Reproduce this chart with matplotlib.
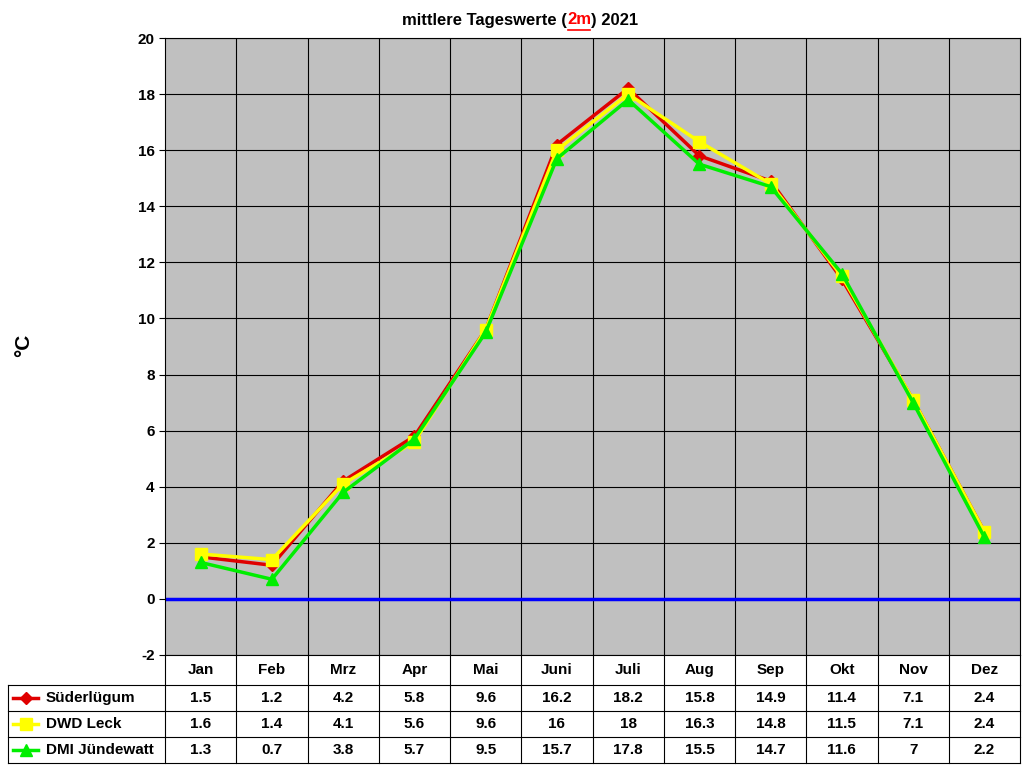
import matplotlib
matplotlib.use("Agg")
import matplotlib.pyplot as plt
from matplotlib.lines import Line2D

months = ["Jan","Feb","Mrz","Apr","Mai","Juni","Juli","Aug","Sep","Okt","Nov","Dez"]
sued = [1.5,1.2,4.2,5.8,9.6,16.2,18.2,15.8,14.9,11.4,7.1,2.4]
dwd = [1.6,1.4,4.1,5.6,9.6,16,18,16.3,14.8,11.5,7.1,2.4]
dmi = [1.3,0.7,3.8,5.7,9.5,15.7,17.8,15.5,14.7,11.6,7,2.2]
names = ["Süderlügum","DWD Leck","DMI Jündewatt"]
series = [sued, dwd, dmi]
colors = ["#E00000","#FFFF00","#00EE00"]
markers = ["D","s","^"]
msizes = [6,8,8]

plt.rcParams['font.family'] = 'Liberation Sans'
plt.rcParams['axes.unicode_minus'] = False
W,H = 1024,768
fig = plt.figure(figsize=(10.24,7.68), dpi=100)
L,R,T,B = 165,1020,38,655
ax = fig.add_axes([L/W, 1-B/H, (R-L)/W, (B-T)/H])
ax.set_facecolor("#C0C0C0")
x = list(range(12))
for s,c,m,ms in zip(series,colors,markers,msizes):
    ax.plot(x,s,color=c,marker=m,markersize=ms,lw=2.5,zorder=3)
ax.axhline(0,color="#0000FF",lw=2.5,zorder=2)
ax.set_xlim(-0.5,11.5); ax.set_ylim(-2,20)
ax.set_yticks(range(-2,21,2))
ax.set_xticks([i+0.5 for i in range(11)])
ax.set_xticklabels([])
ax.tick_params(axis='x', length=0)
ax.grid(True,color="black",lw=0.8)
ax.set_axisbelow(True)
for lab in ax.get_yticklabels(): lab.set_fontweight('bold'); lab.set_fontsize(11)
ax.tick_params(axis='y', length=4)
for sp in ax.spines.values(): sp.set_color('black')
fig.text(24/W, 1-345/H, "°C", rotation=90, fontsize=15, fontweight='bold', va='center', ha='center')

fig.canvas.draw()
r = fig.canvas.get_renderer()
parts = [("mittlere Tageswerte (","black",False),("2m","red",True),(") 2021","black",False)]
texts=[]
for p,c,u in parts:
    t=fig.text(0,1-20/H,p,color=c,fontsize=12,fontweight='bold',va='center')
    texts.append((t,u))
widths=[t.get_window_extent(r).width for t,_ in texts]
xpos=520-sum(widths)/2
for (t,u),w in zip(texts,widths):
    t.set_x(xpos/W)
    if u:
        fig.add_artist(Line2D([(xpos+1)/W,(xpos+w-1)/W],[1-30/H]*2,color='red',lw=1.2))
    xpos+=w

cw=(R-L)/12
rows=[655,685,711,737,763]
def hl(x0,x1,y): fig.add_artist(Line2D([x0/W,x1/W],[1-y/H]*2,color='black',lw=0.8))
def vl(xx,y0,y1): fig.add_artist(Line2D([xx/W]*2,[1-y0/H,1-y1/H],color='black',lw=0.8))
for i in range(13):
    vl(L+i*cw,655,763)
for y in rows[1:]:
    hl(8,R,y)
vl(8,685,763)
for i,mn in enumerate(months):
    fig.text((L+(i+0.5)*cw)/W,1-670/H,mn,ha='center',va='center',fontsize=11,fontweight='bold')
for j,(nm,s,c,m,ms) in enumerate(zip(names,series,colors,markers,msizes)):
    yc=(rows[j+1]+rows[j+2])/2
    fig.add_artist(Line2D([13/W,25.5/W,38/W],[1-yc/H]*3,color=c,lw=2.5,marker=m,markersize=ms,markevery=[1]))
    fig.text(46/W,1-yc/H,nm,va='center',fontsize=11,fontweight='bold')
    for i,v in enumerate(s):
        fig.text((L+(i+0.5)*cw)/W,1-yc/H,f"{v:g}",ha='center',va='center',fontsize=11,fontweight='bold')
fig.savefig("out.png",dpi=100)
